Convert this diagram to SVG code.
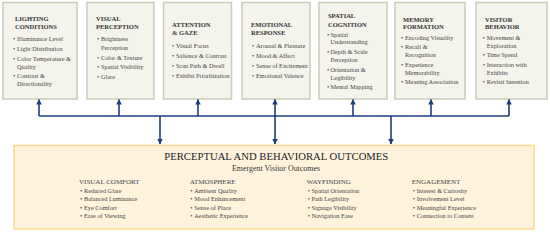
<svg xmlns="http://www.w3.org/2000/svg" width="550" height="233" viewBox="0 0 550 233">
<defs>
<marker id="ah" viewBox="0 0 6 6" markerWidth="5.5" markerHeight="5.5" refX="5.5" refY="3" orient="auto" markerUnits="userSpaceOnUse">
<path d="M0,0 L6,3 L0,6 z" fill="#1B3F7B"/>
</marker>
<style>
.box{fill:#F4F4EC;stroke:#C9CDB5;stroke-width:1.5}
.out{fill:#FFF3DE;stroke:#FDD98C;stroke-width:1.5}
.t{font-family:"Liberation Serif",serif;font-size:6.5px;font-weight:bold;fill:#333333}
.i{font-family:"Liberation Serif",serif;font-size:6.3px;fill:#444444}
.h{font-family:"Liberation Serif",serif;font-size:7px;fill:#444444}
.main{font-family:"Liberation Serif",serif;font-size:11px;fill:#222222}
.sub{font-family:"Liberation Serif",serif;font-size:7.8px;fill:#333333}
.ln{fill:none;stroke:#1B3F7B;stroke-width:1.6}
</style>
</defs>
<rect width="550" height="233" fill="#FFFFFF"/>

<g id="lighting">
<rect class="box" x="3" y="2.5" width="74" height="96.5"/>
<text class="t" x="15" y="20.5">LIGHTING</text>
<text class="t" x="15" y="28.5">CONDITIONS</text>
<text class="i"><tspan x="13" y="41.3">•</tspan><tspan x="17" y="41.3">Illuminance Level</tspan></text>
<text class="i"><tspan x="13" y="51.3">•</tspan><tspan x="17" y="51.3">Light Distribution</tspan></text>
<text class="i"><tspan x="13" y="61">•</tspan><tspan x="17" y="61">Color Temperature &amp;</tspan><tspan x="17" y="69">Quality</tspan></text>
<text class="i"><tspan x="13" y="78">•</tspan><tspan x="17" y="78">Contrast &amp;</tspan><tspan x="17" y="85.5">Directionality</tspan></text>
</g>

<g id="visual-perception">
<rect class="box" x="87" y="2.5" width="67" height="96.5"/>
<text class="t" x="96" y="20.8">VISUAL</text>
<text class="t" x="96" y="28.5">PERCEPTION</text>
<text class="i"><tspan x="97" y="41.3">•</tspan><tspan x="101" y="41.3">Brightness</tspan><tspan x="101" y="49.6">Perception</tspan></text>
<text class="i"><tspan x="97" y="59.6">•</tspan><tspan x="101" y="59.6">Color &amp; Texture</tspan></text>
<text class="i"><tspan x="97" y="69">•</tspan><tspan x="101" y="69">Spatial Visibility</tspan></text>
<text class="i"><tspan x="97" y="79">•</tspan><tspan x="101" y="79">Glare</tspan></text>
</g>

<g id="attention">
<rect class="box" x="163.5" y="2.5" width="68" height="96.5"/>
<text class="t" x="172" y="26.5">ATTENTION</text>
<text class="t" x="172" y="34.5">&amp; GAZE</text>
<text class="i"><tspan x="172" y="47.5">•</tspan><tspan x="176" y="47.5">Visual Focus</tspan></text>
<text class="i"><tspan x="172" y="57.5">•</tspan><tspan x="176" y="57.5">Salience &amp; Contrast</tspan></text>
<text class="i"><tspan x="172" y="67.5">•</tspan><tspan x="176" y="67.5">Scan Path &amp; Dwell</tspan></text>
<text class="i"><tspan x="172" y="77.5">•</tspan><tspan x="176" y="77.5">Exhibit Prioritization</tspan></text>
</g>

<g id="emotional">
<rect class="box" x="242" y="2.5" width="68" height="96.5"/>
<text class="t" x="251" y="26.5">EMOTIONAL</text>
<text class="t" x="251" y="34.8">RESPONSE</text>
<text class="i"><tspan x="252" y="47.5">•</tspan><tspan x="256" y="47.5">Arousal &amp; Pleasure</tspan></text>
<text class="i"><tspan x="252" y="57.5">•</tspan><tspan x="256" y="57.5">Mood &amp; Affect</tspan></text>
<text class="i"><tspan x="252" y="67.5">•</tspan><tspan x="256" y="67.5">Sense of Excitement</tspan></text>
<text class="i"><tspan x="252" y="77.5">•</tspan><tspan x="256" y="77.5">Emotional Valence</tspan></text>
</g>

<g id="spatial">
<rect class="box" x="319" y="2.5" width="68" height="96.5"/>
<text class="t" x="328" y="18">SPATIAL</text>
<text class="t" x="328" y="26.5">COGNITION</text>
<text class="i"><tspan x="327" y="36.5">•</tspan><tspan x="330.5" y="36.5">Spatial</tspan><tspan x="330.5" y="44.3">Understanding</tspan></text>
<text class="i"><tspan x="327" y="54">•</tspan><tspan x="330.5" y="54">Depth &amp; Scale</tspan><tspan x="330.5" y="62.3">Perception</tspan></text>
<text class="i"><tspan x="327" y="71.6">•</tspan><tspan x="330.5" y="71.6">Orientation &amp;</tspan><tspan x="330.5" y="79.6">Legibility</tspan></text>
<text class="i"><tspan x="327" y="89">•</tspan><tspan x="330.5" y="89">Mental Mapping</tspan></text>
</g>

<g id="memory">
<rect class="box" x="395" y="2.5" width="70" height="96.5"/>
<text class="t" x="403" y="21.5">MEMORY</text>
<text class="t" x="403" y="29">FORMATION</text>
<text class="i"><tspan x="401" y="39.8">•</tspan><tspan x="405" y="39.8">Encoding Visuality</tspan></text>
<text class="i"><tspan x="401" y="49">•</tspan><tspan x="405" y="49">Recall &amp;</tspan><tspan x="405" y="57">Recognition</tspan></text>
<text class="i"><tspan x="401" y="66.5">•</tspan><tspan x="405" y="66.5">Experience</tspan><tspan x="405" y="74.5">Memorability</tspan></text>
<text class="i"><tspan x="401" y="83.8">•</tspan><tspan x="405" y="83.8">Meaning Association</tspan></text>
</g>

<g id="visitor">
<rect class="box" x="476" y="2.5" width="71" height="96.5"/>
<text class="t" x="485" y="21.5">VISITOR</text>
<text class="t" x="485" y="29">BEHAVIOR</text>
<text class="i"><tspan x="482.7" y="39.8">•</tspan><tspan x="486.7" y="39.8">Movement &amp;</tspan><tspan x="486.7" y="47.5">Exploration</tspan></text>
<text class="i"><tspan x="482.7" y="57">•</tspan><tspan x="486.7" y="57">Time Spend</tspan></text>
<text class="i"><tspan x="482.7" y="66.5">•</tspan><tspan x="486.7" y="66.5">Interaction with</tspan><tspan x="486.7" y="74.5">Exhibits</tspan></text>
<text class="i"><tspan x="482.7" y="83.8">•</tspan><tspan x="486.7" y="83.8">Revisit Intention</tspan></text>
</g>

<g id="connectors">
<path class="ln" d="M39,116 H509"/>
<path class="ln" d="M39,116 V99.5" marker-end="url(#ah)"/>
<path class="ln" d="M119,116 V99.5" marker-end="url(#ah)"/>
<path class="ln" d="M198,116 V99.5" marker-end="url(#ah)"/>
<path class="ln" d="M275,116 V99.5" marker-end="url(#ah)"/>
<path class="ln" d="M353,116 V99.5" marker-end="url(#ah)"/>
<path class="ln" d="M431,116 V99.5" marker-end="url(#ah)"/>
<path class="ln" d="M509,116 V99.5" marker-end="url(#ah)"/>
<path class="ln" d="M160,116 V144" marker-end="url(#ah)"/>
<path class="ln" d="M275,116 V144" marker-end="url(#ah)"/>
<path class="ln" d="M391,116 V144" marker-end="url(#ah)"/>
</g>

<g id="outcomes">
<rect class="out" x="14" y="145.5" width="520" height="83.5"/>
<text class="main" x="276.3" y="159.5" text-anchor="middle" textLength="224" lengthAdjust="spacingAndGlyphs">PERCEPTUAL AND BEHAVIORAL OUTCOMES</text>
<text class="sub" x="276" y="170.5" text-anchor="middle" textLength="88" lengthAdjust="spacingAndGlyphs">Emergent Visitor Outcomes</text>

<text class="h" x="79" y="183.5">VISUAL COMFORT</text>
<text class="i"><tspan x="80" y="193">•</tspan><tspan x="84" y="193">Reduced Glare</tspan></text>
<text class="i"><tspan x="80" y="201.3">•</tspan><tspan x="84" y="201.3">Balanced Luminance</tspan></text>
<text class="i"><tspan x="80" y="209.6">•</tspan><tspan x="84" y="209.6">Eye Comfort</tspan></text>
<text class="i"><tspan x="80" y="218.2">•</tspan><tspan x="84" y="218.2">Ease of Viewing</tspan></text>

<text class="h" x="189.7" y="183.5">ATMOSPHERE</text>
<text class="i"><tspan x="190.3" y="193">•</tspan><tspan x="194.3" y="193">Ambient Quality</tspan></text>
<text class="i"><tspan x="190.3" y="201.3">•</tspan><tspan x="194.3" y="201.3">Mood Enhancement</tspan></text>
<text class="i"><tspan x="190.3" y="209.6">•</tspan><tspan x="194.3" y="209.6">Sense of Place</tspan></text>
<text class="i"><tspan x="190.3" y="218.2">•</tspan><tspan x="194.3" y="218.2">Aesthetic Experience</tspan></text>

<text class="h" x="306.7" y="183.5">WAYFINDING</text>
<text class="i"><tspan x="307.7" y="193">•</tspan><tspan x="311.5" y="193">Spatial Orientation</tspan></text>
<text class="i"><tspan x="307.7" y="201.3">•</tspan><tspan x="311.5" y="201.3">Path Legibility</tspan></text>
<text class="i"><tspan x="307.7" y="209.6">•</tspan><tspan x="311.5" y="209.6">Signage Visibility</tspan></text>
<text class="i"><tspan x="307.7" y="218.2">•</tspan><tspan x="311.5" y="218.2">Navigation Ease</tspan></text>

<text class="h" x="411.7" y="183.5">ENGAGEMENT</text>
<text class="i"><tspan x="412.7" y="193">•</tspan><tspan x="416.7" y="193">Interest &amp; Curiosity</tspan></text>
<text class="i"><tspan x="412.7" y="201.3">•</tspan><tspan x="416.7" y="201.3">Involvement Level</tspan></text>
<text class="i"><tspan x="412.7" y="209.6">•</tspan><tspan x="416.7" y="209.6">Meaningful Experience</tspan></text>
<text class="i"><tspan x="412.7" y="218.2">•</tspan><tspan x="416.7" y="218.2">Connection to Content</tspan></text>
</g>
</svg>
